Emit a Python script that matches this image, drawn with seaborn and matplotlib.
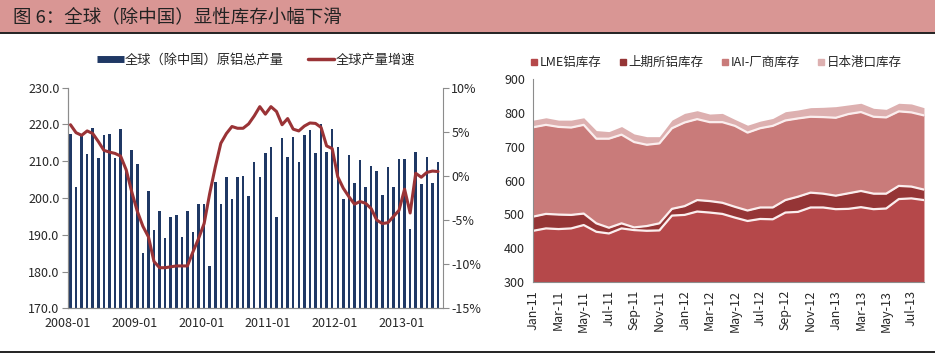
import numpy as np
import pandas as pd
import matplotlib
matplotlib.use("Agg")
from matplotlib import pyplot as plt
from matplotlib.lines import Line2D
from matplotlib.patches import Rectangle
import seaborn as sns

# left panel: monthly primary aluminium output ex-China and its yoy growth, 2008-01 .. 2013-07
output = [217.5, 203.0, 217.0, 212.0, 219.0, 211.0, 217.0, 217.5, 211.0, 218.8, 208.2, 213.0,
          209.3, 185.1, 201.8, 191.3, 196.5, 189.1, 194.8, 195.5, 189.5, 196.5, 190.7, 198.4,
          198.4, 181.5, 204.4, 198.3, 205.8, 199.7, 205.6, 206.0, 200.6, 209.9, 205.6, 212.3,
          213.9, 194.9, 216.3, 211.1, 216.7, 209.8, 217.1, 218.5, 212.3, 220.1, 212.4, 218.8,
          213.9, 199.7, 211.7, 204.2, 210.3, 203.1, 208.7, 207.3, 200.9, 208.3, 202.9, 210.7,
          210.7, 191.6, 212.4, 203.7, 211.1, 204.2, 209.8]
growth = [5.8, 4.9, 4.6, 5.1, 4.8, 3.9, 2.9, 2.7, 2.55, 2.25, 0.7, -1.8,
          -4.0, -5.7, -6.9, -9.7, -10.4, -10.4, -10.3, -10.2, -10.2, -10.2, -8.6, -7.1,
          -5.4, -2.0, 1.0, 3.7, 4.8, 5.6, 5.4, 5.4, 5.9, 6.8, 7.85, 7.0,
          7.85, 7.3, 5.8, 6.5, 5.3, 5.1, 5.65, 6.0, 5.95, 5.5, 3.4, 3.1,
          -0.1, -1.4, -2.35, -3.2, -2.9, -3.1, -3.7, -5.0, -5.4, -5.3, -4.6, -3.9,
          -1.5, -4.2, 0.3, -0.15, 0.4, 0.55, 0.5]
year_labels = ["2008-01", "2009-01", "2010-01", "2011-01", "2012-01", "2013-01"]
left_yticks = [170, 180, 190, 200, 210, 220, 230]
right_yticks = [-15, -10, -5, 0, 5, 10]

# right panel: visible inventories (10k t), Jan-11 .. Aug-13
inv_months = pd.date_range("2011-01-01", periods=32, freq="MS").strftime("%b-%y")
lme = [451, 458, 456, 458, 468, 448, 443, 458, 453, 451, 452, 496, 498, 508, 505, 501,
       490, 480, 486, 485, 505, 507, 520, 520, 515, 516, 521, 515, 517, 545, 547, 542]
shfe = [42, 43, 43, 40, 34, 25, 17, 15, 8, 14, 21, 20, 26, 34, 34, 33,
        32, 31, 34, 35, 37, 45, 44, 41, 40, 46, 48, 46, 44, 39, 35, 31]
iai = [265, 264, 260, 259, 263, 251, 264, 263, 253, 241, 237, 239, 248, 240, 234, 239,
       240, 231, 235, 242, 236, 232, 225, 227, 231, 235, 234, 228, 226, 221, 220, 220]
japan = [21, 21, 20, 22, 21, 24, 21, 24, 24, 24, 20, 24, 27, 25, 24, 26,
         19, 22, 21, 22, 26, 25, 27, 29, 33, 27, 26, 25, 24, 24, 25, 23]
inv_names = ["LME铝库存", "上期所铝库存", "IAI-厂商库存", "日本港口库存"]

sns.set_style("white")
plt.rcParams['font.family'] = ['Noto Sans CJK SC', 'DejaVu Sans']
plt.rcParams['axes.unicode_minus'] = False

navy = "#1f3864"
dark_red = "#9a3336"
inv_colors = ["#b5484a", "#953536", "#c97b7a", "#ddb0b0"]
axis_grey = "#8c8c8c"

fig = plt.figure(figsize=(9.35, 3.56), dpi=100)

# title bar
fig.patches.append(Rectangle((0, 0.907), 1, 0.093, transform=fig.transFigure,
                             facecolor="#d99694", edgecolor="none", zorder=0))
fig.add_artist(Line2D([0, 1], [0.907, 0.907], color="#222222", lw=1.4))
fig.add_artist(Line2D([0, 1], [0.012, 0.012], color="#222222", lw=1.4))
fig.text(0.014, 0.952, "图 6：全球（除中国）显性库存小幅下滑", fontsize=13.3,
         color="#222222", va="center", ha="left")

# ---- left panel
ax = fig.add_axes([0.0724, 0.134, 0.4014, 0.6197])
df_prod = pd.DataFrame({"m": np.arange(len(output)) + 0.5, "output": output, "growth": growth})
sns.barplot(data=df_prod, x="m", y="output", native_scale=True, color=navy,
            width=0.45, errorbar=None, linewidth=0, saturation=1, ax=ax, zorder=2)
ax.set_ylim(170, 230)
ax.set_xlim(0, 67.4)
ax.set_yticks(left_yticks)
ax.set_yticklabels([f"{v:.1f}" for v in left_yticks], fontsize=9)
ax.set_xticks(np.arange(len(year_labels)) * 12)
ax.set_xticklabels(year_labels, fontsize=9)
ax.set_xlabel("")
ax.set_ylabel("")

ax2 = ax.twinx()
sns.lineplot(data=df_prod, x="m", y="growth", color=dark_red, lw=2.2, ax=ax2)
ax2.set_ylim(-15, 10)
ax2.set_yticks(right_yticks)
ax2.set_yticklabels([f"{v}%" for v in right_yticks], fontsize=9)
ax2.set_ylabel("")
ax2.set_xlim(0, 67.4)

for a in (ax, ax2):
    a.spines["top"].set_visible(False)
    for s in ("left", "right", "bottom"):
        a.spines[s].set_color(axis_grey)
        a.spines[s].set_linewidth(0.8)
    a.tick_params(direction="out", length=4, width=0.8, color=axis_grey, pad=2)
ax.spines["right"].set_visible(False)

fig.legend(handles=[Line2D([], [], color=navy, lw=5, solid_capstyle="butt"),
                    Line2D([], [], color=dark_red, lw=2.5)],
           labels=["全球（除中国）原铝总产量", "全球产量增速"],
           loc="center", bbox_to_anchor=(0.274, 0.831), ncol=2, frameon=False,
           fontsize=9.5, handlelength=2.0, handletextpad=0.1, columnspacing=1.8)

# ---- right panel
bx = fig.add_axes([0.5704, 0.2087, 0.4178, 0.5685])
xs = np.arange(len(inv_months))
bx.stackplot(xs, lme, shfe, iai, japan, colors=inv_colors, lw=0, zorder=1)
tops = np.cumsum([lme, shfe, iai], axis=0)
for top in tops:
    sns.lineplot(x=xs, y=top, color="#fbeeee", lw=1.6, ax=bx, zorder=2)
bx.set_xlim(0, len(inv_months) - 1)
bx.set_ylim(300, 900)
bx.set_yticks(range(300, 901, 100))
bx.set_yticklabels([str(v) for v in range(300, 901, 100)], fontsize=9)
bx.set_xticks(xs[::2])
bx.set_xticklabels(inv_months[::2], rotation=90, fontsize=9)
bx.spines["top"].set_visible(False)
bx.spines["right"].set_visible(False)
for s in ("left", "bottom"):
    bx.spines[s].set_color(axis_grey)
    bx.spines[s].set_linewidth(0.8)
bx.tick_params(direction="out", length=4, width=0.8, color=axis_grey, pad=2)

fig.legend(handles=[Line2D([], [], ls="none", marker="s", markersize=4.5, color=c)
                    for c in inv_colors],
           labels=inv_names, loc="center", bbox_to_anchor=(0.766, 0.824), ncol=4,
           frameon=False, fontsize=9, handlelength=0.6, handletextpad=0.15,
           columnspacing=1.4)

fig.savefig("out.png", dpi=100)
